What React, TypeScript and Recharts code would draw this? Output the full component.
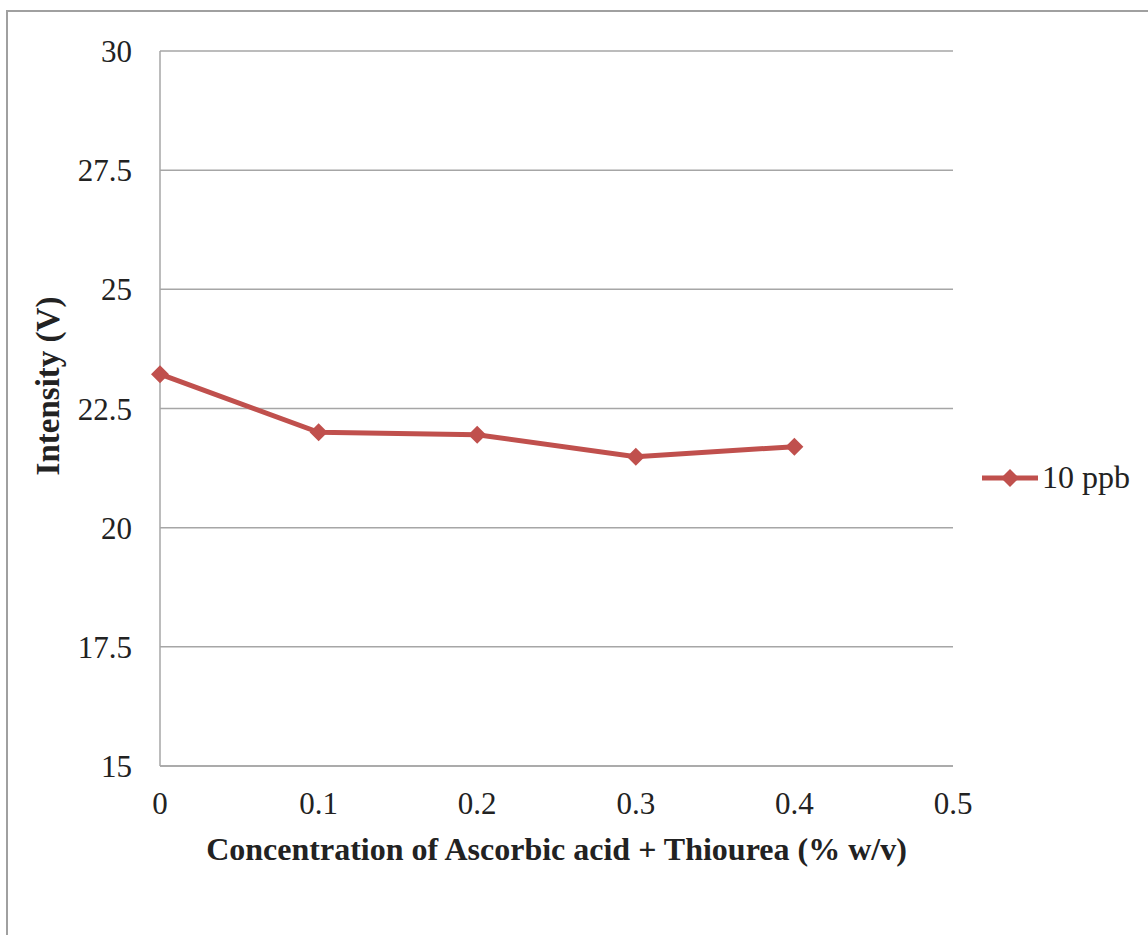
import { CartesianGrid, Legend, Line, LineChart, XAxis, YAxis } from "recharts"

// Intensity against additive concentration, 10 ppb standard
const concentrations = [0, 0.1, 0.2, 0.3, 0.4]
const intensity = [23.22, 22.0, 21.95, 21.49, 21.7]
const xTicks = [0, 0.1, 0.2, 0.3, 0.4, 0.5]
const yTicks = [15, 17.5, 20, 22.5, 25, 27.5, 30]
const seriesName = "10 ppb"

const data = concentrations.map((c, i) => ({ c, v: intensity[i] }))

const RED = "#c0504d"
const GRID = "#a6a6a6"
const FONT = "'Liberation Serif', 'Times New Roman', serif"

function Diamond(props: any) {
  const { cx, cy } = props
  if (cx == null || cy == null) return null
  const r = 9
  return (
    <polygon
      points={`${cx},${cy - r} ${cx + r},${cy} ${cx},${cy + r} ${cx - r},${cy}`}
      fill={RED}
    />
  )
}

function LegendBox() {
  return (
    <div style={{ display: "flex", alignItems: "center", fontFamily: FONT, fontSize: 32, color: "#222" }}>
      <svg width={58} height={30}>
        <line x1={0} y1={15} x2={56} y2={15} stroke={RED} strokeWidth={5} />
        <polygon points="28,6 37,15 28,24 19,15" fill={RED} />
      </svg>
      <span style={{ marginLeft: 2 }}>{seriesName}</span>
    </div>
  )
}

function YLabel() {
  return (
    <text
      x={48}
      y={386}
      transform="rotate(-90 48 386)"
      textAnchor="middle"
      dominantBaseline="central"
      fontFamily={FONT}
      fontSize={33}
      fontWeight="bold"
      fill="#222"
    >
      Intensity (V)
    </text>
  )
}

export default function App() {
  return (
    <div style={{ position: "absolute", left: 0, top: 0, width: 1148, height: 935, background: "#fff" }}>
      <div
        style={{
          position: "absolute",
          left: 6,
          top: 10,
          width: 1160,
          height: 940,
          border: "2px solid #a0a0a0",
          boxSizing: "border-box",
        }}
      />
      <div style={{ position: "absolute", left: 0, top: 0 }}>
        <LineChart
          width={1148}
          height={935}
          data={data}
          margin={{ top: 51, right: 195, bottom: 70, left: 0 }}
        >
          <CartesianGrid stroke={GRID} strokeWidth={1.5} vertical={false} />
          <XAxis
            dataKey="c"
            type="number"
            domain={[0, 0.5]}
            ticks={xTicks}
            tickFormatter={(v) => String(v)}
            stroke={GRID}
            strokeWidth={1.5}
            tickLine={false}
            tickSize={0}
            tickMargin={26}
            height={99}
            tick={{ fill: "#222", fontSize: 31, fontFamily: FONT }}
            label={{
              value: "Concentration of Ascorbic acid + Thiourea (% w/v)",
              position: "insideBottom",
              offset: 5,
              fill: "#222",
              fontSize: 32,
              fontFamily: FONT,
              fontWeight: "bold",
            }}
          />
          <YAxis
            type="number"
            domain={[15, 30]}
            ticks={yTicks}
            interval={0}
            width={160}
            stroke={GRID}
            strokeWidth={1.5}
            tickLine={false}
            tickSize={0}
            tickMargin={28}
            tick={{ fill: "#222", fontSize: 31, fontFamily: FONT }}
            label={<YLabel />}
          />
          <Legend
            layout="horizontal"
            verticalAlign="middle"
            align="center"
            content={<LegendBox />}
            wrapperStyle={{ left: 982, top: 459, width: 170, bottom: "auto" }}
          />
          <Line
            dataKey="v"
            name={seriesName}
            stroke={RED}
            strokeWidth={5}
            dot={<Diamond />}
            activeDot={false}
            isAnimationActive={false}
          />
        </LineChart>
      </div>
    </div>
  )
}
